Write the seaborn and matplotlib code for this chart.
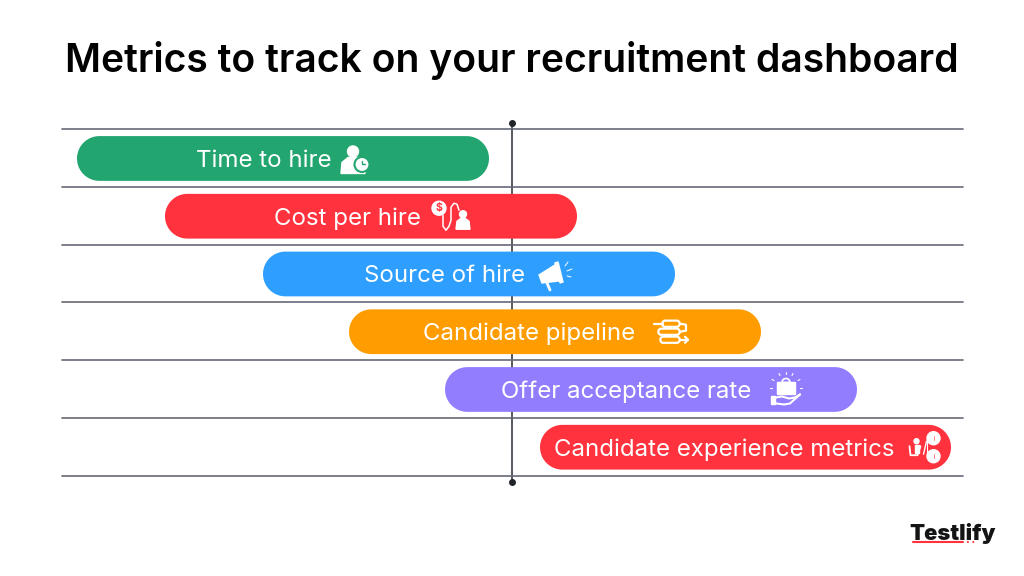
import matplotlib
matplotlib.use("Agg")
import numpy as np
import matplotlib.pyplot as plt
import seaborn as sns
import pandas as pd
from matplotlib.patches import FancyBboxPatch, Circle, Rectangle, Wedge, Polygon

metrics = ["Time to hire", "Cost per hire", "Source of hire", "Candidate pipeline",
           "Offer acceptance rate", "Candidate experience metrics"]
start = [77, 165, 263, 349, 445, 540]
end = [489, 577, 675, 761, 857, 951]
colors = ["#22A56F", "#FF323E", "#2E9FFF", "#FF9C00", "#927DFF", "#FF323E"]
title = "Metrics to track on your recruitment dashboard"
brand = "Testlify"

label_shift = [-19, -24, -24, -25.5, -25, -21.5]
icon_shift = [72, 80, 84, 116, 135, 180]

W, H = 1024, 576
sns.set_theme(style="white")
plt.rcParams["font.family"] = ["Inter", "DejaVu Sans"]

fig = plt.figure(figsize=(W / 100, H / 100), dpi=100, facecolor="white")
ax = fig.add_axes([61.5 / W, 1 - 475.5 / H, 901.5 / W, 346.5 / H])

df = pd.DataFrame({"metric": metrics, "end": end})
sns.barplot(data=df, y="metric", x="end", hue="metric", palette=colors, saturation=1,
            legend=False, width=0.775, ax=ax, zorder=4, dodge=False)
ax.set_xlim(61, 963)
ax.set_ylim(5.5, -0.5)
ax.set_xlabel("")
ax.set_ylabel("")
ax.set_xticks([])
ax.set_yticks([])
for s in ax.spines.values():
    s.set_visible(False)
ax.patch.set_alpha(0)

grid = "#666A75"
for i in range(len(metrics) + 1):
    ax.axhline(i - 0.5, color=grid, lw=1.2, zorder=1, clip_on=False)

# vertical axis with end dots, in pixel space
ov = fig.add_axes([0, 0, 1, 1], zorder=-1)
ov.set_xlim(0, W)
ov.set_ylim(H, 0)
ov.axis("off")
ov.plot([512, 512], [123, 482], color="#3A3D46", lw=1.2)
ov.plot([512, 512], [123, 482], ls="none", marker="o", ms=4, color="#22242B")

# pill bars derived from the seaborn bars
top = fig.add_axes([0, 0, 1, 1], zorder=5)
top.set_xlim(0, W)
top.set_ylim(H, 0)
top.axis("off")
top.patch.set_alpha(0)
row_h = 346.5 / 6
bar_h = 0.775 * row_h
rows = []
for bar, x0 in zip(list(ax.patches), start):
    x1 = bar.get_width()
    yc = 129.6 + (bar.get_y() + bar.get_height() / 2 + 0.5) * row_h
    r = bar_h / 2
    t = np.linspace(-np.pi / 2, np.pi / 2, 40)
    pts = np.r_[np.c_[x1 - r + r * np.cos(t), yc + r * np.sin(t)],
                np.c_[x0 + r - r * np.cos(t), yc - r * np.sin(t)]]
    top.add_patch(Polygon(pts, closed=True, fc=bar.get_facecolor(), ec="none"))
    rows.append(((x0 + x1) / 2, yc))
    bar.set_visible(False)

for name, (xc, yc), dx in zip(metrics, rows, label_shift):
    top.text(xc + dx, yc, name, color="white", fontsize=17.3, ha="center",
             va="center_baseline", fontweight="normal")

WHT = "white"
def add(p):
    top.add_patch(p)

def line(xs, ys, lw=1.3, color=WHT):
    top.plot(xs, ys, color=color, lw=lw, solid_capstyle="round")

def icon0(c, y):
    add(Circle((c - 2, y - 7), 5.5, fc=WHT))
    add(Polygon([(c - 14, y + 15), (c - 13, y + 4), (c - 7, y - 1), (c + 4, y - 1),
                 (c + 10, y + 4), (c + 10, y + 15)], fc=WHT))
    add(Circle((c + 7, y + 6), 7.5, fc=WHT, ec=colors[0], lw=1.5))
    line([c + 7, c + 7, c + 10], [y + 2.5, y + 6, y + 6], 1.0, colors[0])

def icon1(c, y):
    add(Circle((c - 12, y - 8), 7, fc=WHT))
    top.text(c - 12, y - 8, "$", color=colors[1], fontsize=7.5, ha="center", va="center", fontweight="bold")
    top.plot([c - 8, c - 8, c - 5, c - 2, c, c, c + 3, c + 6, c + 8],
             [y - 1, y + 10, y + 14, y + 10, y + 4, y - 9, y - 13, y - 12, y - 6],
             color=WHT, lw=1.1)
    add(Circle((c + 12, y - 2), 3.5, fc=WHT))
    add(Polygon([(c + 5, y + 13), (c + 6, y + 5), (c + 10, y + 2), (c + 14, y + 2),
                 (c + 18, y + 5), (c + 19, y + 13)], fc=WHT))

def icon2(c, y):
    add(Polygon([(c - 14, y + 1), (c + 2, y - 9), (c + 6, y + 7), (c - 11, y + 9)], fc=WHT))
    add(Polygon([(c + 2, y - 11), (c + 5, y - 12), (c + 10, y + 8), (c + 7, y + 9)], fc=WHT))
    line([c - 6, c - 3], [y + 9, y + 16], 2)
    line([c + 12, c + 15], [y - 8, y - 12], 0.7)
    line([c + 14, c + 19], [y - 3, y - 5], 0.7)
    line([c + 14, c + 18], [y + 2, y + 3], 0.7)

def icon3(c, y):
    for dy, lo, hi in [(-8, -9, 9), (0, -13, 9), (8, -11, 9)]:
        add(FancyBboxPatch((c + lo + 3, y + dy - 0.5), hi - lo - 6, 1,
                           boxstyle="round,pad=2.6,rounding_size=2.8",
                           fc="none", ec=WHT, lw=1.6))
    line([c - 17, c - 8], [y - 8, y - 8], 1.6)
    line([c + 9, c + 15, c + 15, c + 9], [y - 8, y - 7, y - 1, y], 1.6)
    line([c + 9, c + 17], [y + 8, y + 8], 1.6)
    line([c + 14, c + 17, c + 14], [y + 5, y + 8, y + 11], 1.6)

def icon4(c, y):
    add(Rectangle((c - 9, y - 7), 18, 12, fc=WHT))
    add(Rectangle((c - 9, y - 2), 18, 1, fc=colors[4]))
    add(Wedge((c, y - 7), 4, 180, 360, fc="none", ec=WHT, lw=1.2))
    add(Rectangle((c - 15, y + 7), 4, 8, fc=WHT))
    top.plot([c - 10, c - 4, c + 3, c + 9, c + 14], [y + 8, y + 7, y + 9, y + 8, y + 5], color=WHT, lw=1.5)
    top.plot([c - 10, c - 2, c + 4, c + 14], [y + 14, y + 15, y + 14, y + 5], color=WHT, lw=1.5)
    for dx, dy, ex, ey in [(0, -17, 0, -15), (-7, -16, -6, -14), (7, -16, 6, -14), (-14, -10, -12, -9),
                           (14, -10, 12, -9), (-16, -1, -14, -1), (16, -1, 14, -1)]:
        line([c + dx, c + ex], [y + dy, y + ey], 0.8)

def icon5(c, y):
    add(Circle((c - 9, y - 6), 2.5, fc=WHT))
    add(Rectangle((c - 11, y - 2), 4, 8, fc=WHT))
    line([c - 16, c - 15, c - 8, c - 5], [y - 1, y + 8, y + 8, y - 1], 1.3)
    line([c - 2, c + 1], [y + 7, y - 6], 1.0)
    line([c + 4, c + 1, c + 1, c + 4], [y - 9, y - 9, y + 9, y + 9], 0.8)
    add(Circle((c + 8, y - 9), 6.5, fc=WHT))
    add(Circle((c + 8, y + 9), 6.5, fc=WHT))
    add(Rectangle((c + 7, y - 12), 2.5, 6, fc=colors[5]))
    add(Rectangle((c + 7, y + 6), 2.5, 6, fc=colors[5]))

for fn, (xc, yc), dx in zip([icon0, icon1, icon2, icon3, icon4, icon5], rows, icon_shift):
    fn(xc + dx, yc)

top.text(512, 57, title, fontsize=28.1, fontweight="semibold", ha="center",
         va="center_baseline", color="black")
top.text(952.5, 531.5, brand, fontsize=15.8, fontweight="black", ha="center",
         va="center_baseline", color="#141414")
top.plot([913, 963], [542, 542], color="#FF323E", lw=1.5)
top.plot([967, 976], [542, 542], color="#FF323E", lw=1.3, ls=(0, (1, 2)))

fig.savefig("out.png", dpi=100, facecolor="white")
